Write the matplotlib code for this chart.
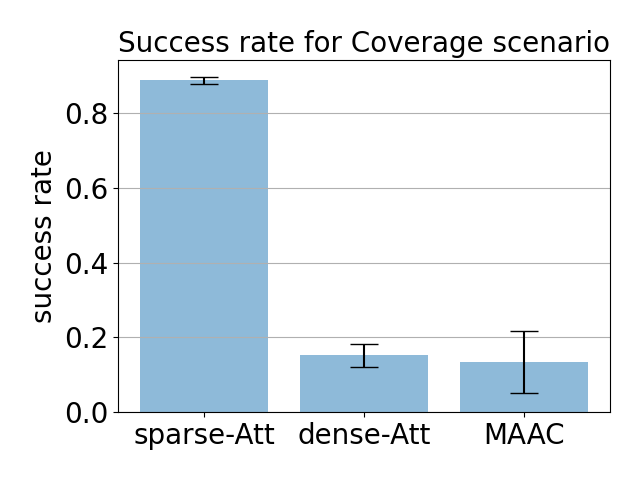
import numpy as np
import matplotlib
matplotlib.use("Agg")
import matplotlib.pyplot as plt

methods = ['sparse-Att', 'dense-Att', 'MAAC']
success = [0.889, 0.152, 0.134]
errors = [0.0095, 0.031, 0.083]

x_pos = np.arange(len(methods))

fig, ax = plt.subplots(figsize=(6.4, 4.8), dpi=100)
ax.bar(x_pos, success, yerr=errors, align='center', alpha=0.5, ecolor='black', capsize=10)
ax.set_ylabel('success rate', fontsize=20)
ax.set_xticks(x_pos)
ax.set_xticklabels(methods, fontsize=20)
ax.tick_params(axis='y', labelsize=20)
ax.set_title('Success rate for Coverage scenario', fontsize=20)
ax.yaxis.grid(True)
plt.subplots_adjust(left=0.184, right=0.953, top=0.875, bottom=0.142)
plt.savefig('out.png')
